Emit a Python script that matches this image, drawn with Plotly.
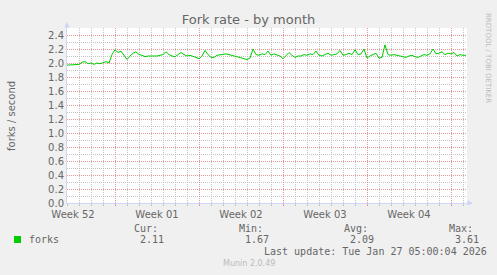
import plotly.graph_objects as go
import pandas as pd

# ---- data (forks per second, 6-hour samples) ----
forks = [
    1.97, 1.97, 1.98, 1.97, 1.98, 2.01, 2.02, 1.99, 2.00, 1.98,
    2.00, 1.99, 2.01, 2.02, 2.00, 2.12, 2.19, 2.15, 2.17, 2.10,
    2.05, 2.10, 2.14, 2.16, 2.12, 2.11, 2.09, 2.10, 2.10, 2.09,
    2.10, 2.11, 2.12, 2.16, 2.12, 2.10, 2.09, 2.12, 2.15, 2.12,
    2.10, 2.11, 2.10, 2.08, 2.06, 2.10, 2.18, 2.12, 2.08, 2.08,
    2.11, 2.12, 2.12, 2.13, 2.12, 2.11, 2.10, 2.09, 2.07, 2.06,
    2.05, 2.07, 2.20, 2.12, 2.11, 2.13, 2.12, 2.17, 2.11, 2.13,
    2.11, 2.10, 2.06, 2.10, 2.15, 2.11, 2.08, 2.10, 2.10, 2.12,
    2.11, 2.13, 2.12, 2.17, 2.11, 2.10, 2.12, 2.14, 2.11, 2.12,
    2.13, 2.18, 2.11, 2.12, 2.14, 2.12, 2.19, 2.12, 2.13, 2.20,
    2.07, 2.10, 2.12, 2.14, 2.07, 2.08, 2.26, 2.12, 2.11, 2.12,
    2.11, 2.10, 2.10, 2.08, 2.10, 2.11, 2.09, 2.08, 2.10, 2.12,
    2.11, 2.13, 2.20, 2.13, 2.14, 2.16, 2.12, 2.14, 2.13, 2.15,
    2.10, 2.12, 2.11, 2.11,
]
start_time = "2025-12-25 00:00"
end_time = "2026-01-27 08:00"
sample_freq = "6h"

stat_labels = ["Cur:", "Min:", "Avg:", "Max:"]
stat_values = ["2.11", "1.67", "2.09", "3.61"]
series_name = "forks"
title_text = "Fork rate - by month"
y_title = "forks / second"
last_update = "Last update: Tue Jan 27 05:00:04 2026"
munin_ver = "Munin 2.0.49"
side_text = "RRDTOOL / TOBI OETIKER"

times = pd.date_range(start_time, periods=len(forks), freq=sample_freq)

W, H = 497, 275
L, R, T, B = 67, 30, 28, 72
PW, PH = W - L - R, H - T - B


def pp(x, y):
    return (x - L) / PW, (T + PH - y) / PH


FONT = "DejaVu Sans"
MONO = "DejaVu Sans Mono"
TXT = "#666666"
GREEN = "#00CC00"
AXIS = "#CFD6F8"
MGRID = "rgba(230,140,140,0.9)"
GRID = "rgba(190,190,190,0.9)"

fig = go.Figure()
fig.add_trace(go.Scatter(x=times, y=forks, mode="lines",
                         line=dict(color=GREEN, width=1), showlegend=False,
                         hoverinfo="skip"))

fig.update_layout(
    width=W, height=H, autosize=False,
    margin=dict(l=L, r=R, t=T, b=B, pad=0),
    paper_bgcolor="#F0F0F0", plot_bgcolor="#FFFFFF",
    font=dict(family=FONT, size=10, color=TXT),
    title=dict(text=title_text, x=0.5, xref="container", xanchor="center",
               y=1 - 19 / H, yref="container", yanchor="middle",
               font=dict(family=FONT, size=13, color=TXT)),
    showlegend=False,
)

fig.update_xaxes(
    type="date", range=[start_time, end_time],
    dtick=7 * 86400000, tick0="2025-12-22", ticklabelmode="period",
    tickformat="Week %V",
    showgrid=True, gridcolor=MGRID, griddash="1px,1px", gridwidth=1,
    ticks="outside", ticklen=2, tickcolor=MGRID,
    minor=dict(dtick=86400000, tick0="2025-12-25", showgrid=True,
               gridcolor=GRID, griddash="1px,1px", ticks="outside",
               ticklen=2, tickcolor=GRID),
    showline=True, linecolor=AXIS, linewidth=1, zeroline=False,
    tickfont=dict(family=FONT, size=10, color=TXT),
    fixedrange=True,
)
fig.update_yaxes(
    range=[0, 2.5], dtick=0.2, tick0=0, tickformat=".1f",
    showgrid=True, gridcolor=MGRID, griddash="1px,1px", gridwidth=1,
    ticks="", ticklen=0,
    minor=dict(dtick=0.1, showgrid=True, gridcolor=GRID, griddash="1px,1px"),
    showline=True, linecolor=AXIS, linewidth=1, zeroline=False,
    tickfont=dict(family=FONT, size=10, color=TXT),
    fixedrange=True,
)

ann = []


def text(s, x, y, size=10, family=MONO, color=TXT, anchor="left", angle=0):
    px_, py_ = pp(x, y)
    ann.append(dict(text=s, x=px_, y=py_, xref="paper", yref="paper",
                    xanchor=anchor, yanchor="middle", showarrow=False,
                    textangle=angle,
                    font=dict(family=family, size=size, color=color)))


text(y_title, 11, 116, size=10, family=FONT, anchor="center", angle=-90)
stat_x = [132, 237, 342, 447]
for lab, val, sx in zip(stat_labels, stat_values, stat_x):
    text(lab, sx, 228)
    text(val, sx + 5.5, 239.5)
text(series_name, 27, 239.5)
text(last_update, 262, 251.5)
text(munin_ver, 249, 263.5, size=8, family=FONT, color="#BBBBBB", anchor="center")
text(side_text, 488, 58, size=7, family=FONT, color="#BBBBBB", anchor="center", angle=90)

# axis arrows
ax0, ay0 = pp(67, 22)
ann.append(dict(x=ax0, y=ay0, xref="paper", yref="paper", text="", showarrow=True,
                ax=0, ay=7, arrowhead=2, arrowsize=1.1, arrowwidth=1,
                arrowcolor=AXIS))
ax1, ay1 = pp(473, 203)
ann.append(dict(x=ax1, y=ay1, xref="paper", yref="paper", text="", showarrow=True,
                ax=-7, ay=0, arrowhead=2, arrowsize=1.1, arrowwidth=1,
                arrowcolor=AXIS))

x0, y0 = pp(14, 236)
x1, y1 = pp(21, 243)
fig.update_layout(annotations=ann, shapes=[dict(type="rect", xref="paper", yref="paper",
                                                 x0=x0, y0=y0, x1=x1, y1=y1,
                                                 fillcolor=GREEN, line=dict(width=0))])

fig.write_html("out.html")
